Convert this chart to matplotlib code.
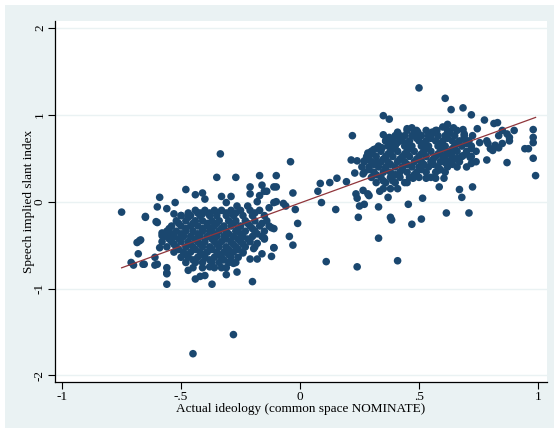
import numpy as np
import matplotlib.pyplot as plt
from matplotlib.patches import Rectangle

# sparse points (x = nominate, y = slant index)
sparse_pts = [
    (-0.75, -0.12), (-0.71, -0.70), (-0.70, -0.73), (-0.685, -0.47), (-0.67, -0.44),
    (-0.68, -0.60), (-0.66, -0.72), (-0.60, -0.24), (-0.575, -0.37), (-0.56, -0.95),
    (-0.56, -0.83), (-0.56, -0.76), (-0.61, -0.64), (-0.60, -0.72), (-0.59, -0.53),
    (-0.58, -0.39), (-0.55, -0.39), (-0.65, -0.18), (-0.60, -0.06), (-0.59, 0.05),
    (-0.56, -0.08), (-0.525, -0.01), (-0.53, -0.14), (-0.50, -0.16), (-0.48, 0.14),
    (-0.47, -0.18), (-0.44, 0.08), (-0.41, 0.10), (-0.40, 0.03), (-0.35, 0.28),
    (-0.335, 0.55), (-0.33, 0.06), (-0.43, -0.13), (-0.41, -0.14), (-0.31, -0.01),
    (-0.35, -0.13), (-0.27, 0.28), (-0.17, 0.30), (-0.10, 0.30), (-0.04, 0.46),
    (-0.21, 0.17), (-0.16, 0.19), (-0.11, 0.17), (-0.10, 0.17), (-0.15, 0.12),
    (-0.14, 0.12), (-0.21, 0.09), (-0.17, 0.07), (-0.03, 0.10), (-0.11, -0.01),
    (-0.10, 0.00), (-0.07, -0.02), (-0.06, -0.05), (-0.02, -0.09), (-0.18, 0.00),
    (-0.265, -0.05), (-0.29, 0.06), (-0.22, -0.05), (-0.13, -0.07),
    (-0.01, -0.25), (-0.045, -0.40), (-0.03, -0.50), (-0.11, -0.53), (-0.12, -0.63),
    (-0.15, -0.42), (-0.11, -0.31), (-0.12, -0.30), (-0.16, -0.60), (-0.18, -0.66),
    (-0.21, -0.66), (-0.24, -0.59), (-0.28, -0.71), (-0.265, -0.81), (-0.20, -0.92),
    (-0.195, -0.54), (-0.18, -0.48), (-0.28, -1.53), (-0.45, -1.75), (-0.37, -0.95),
    (-0.44, -0.89), (-0.42, -0.86), (-0.40, -0.85), (-0.31, -0.84), (-0.655, -0.72),
    (-0.61, -0.73), (-0.56, -0.82), (-0.47, -0.79), (-0.38, -0.75), (-0.33, -0.76),
    (-0.15, -0.43), (-0.11, -0.53), (-0.675, -0.45), (-0.58, -0.36), (-0.53, -0.40),
    (-0.65, -0.17), (-0.605, -0.23),
    (0.075, 0.12), (0.085, 0.21), (0.125, 0.22), (0.155, 0.27), (0.09, -0.01),
    (0.15, -0.09), (0.195, 0.23), (0.235, 0.09), (0.24, 0.04), (0.25, -0.05),
    (0.27, -0.03), (0.245, -0.18), (0.29, 0.07), (0.33, -0.06), (0.335, 0.12),
    (0.35, 0.15), (0.37, 0.05), (0.38, -0.18), (0.385, -0.21), (0.33, -0.42),
    (0.455, -0.03), (0.47, -0.26), (0.51, -0.20), (0.515, 0.04), (0.53, 0.27),
    (0.11, -0.69), (0.24, -0.75), (0.41, -0.68), (0.265, 0.13), (0.285, 0.09),
    (0.38, 0.15), (0.41, 0.15), (0.45, 0.22), (0.475, 0.27), (0.32, 0.22),
    (0.35, 0.24), (0.39, 0.24), (0.57, 0.27), (0.605, 0.27), (0.585, 0.17),
    (0.67, 0.14), (0.68, 0.05), (0.725, 0.17), (0.615, -0.13), (0.71, -0.13),
    (0.99, 0.30),
    (0.50, 1.31), (0.35, 0.99), (0.375, 0.95), (0.22, 0.76), (0.35, 0.77),
    (0.375, 0.74), (0.41, 0.80), (0.42, 0.76), (0.45, 0.84), (0.47, 0.85),
    (0.495, 0.80), (0.215, 0.48), (0.24, 0.47), (0.23, 0.33), (0.265, 0.32),
    (0.285, 0.56), (0.31, 0.60), (0.345, 0.62), (0.36, 0.70), (0.41, 0.68),
    (0.27, 0.47), (0.32, 0.45),
    (0.61, 1.19), (0.635, 1.06), (0.685, 1.08), (0.72, 1.00), (0.775, 0.94),
    (0.815, 0.90), (0.83, 0.91), (0.85, 0.82), (0.87, 0.78), (0.90, 0.82),
    (0.98, 0.83), (0.98, 0.74), (0.98, 0.68), (0.945, 0.61), (0.96, 0.61),
    (0.98, 0.50), (0.87, 0.45), (0.785, 0.48), (0.74, 0.46), (0.72, 0.44),
    (0.785, 0.70), (0.80, 0.61), (0.81, 0.59), (0.835, 0.62), (0.835, 0.76),
    (0.88, 0.74), (0.745, 0.84), (0.685, 0.83), (0.69, 0.78), (0.725, 0.76),
    (0.60, 0.86), (0.62, 0.89), (0.645, 0.85), (0.575, 0.82), (0.555, 0.80),
    (0.755, 0.68), (0.79, 0.67), (0.82, 0.65), (0.85, 0.67), (0.88, 0.70),
    (0.685, 0.53), (0.665, 0.50), (0.63, 0.47), (0.715, 0.51), (0.58, 0.36),
    (0.61, 0.45), (0.645, 0.59), (0.665, 0.67),
]

# dense cores, typed row by row (y value: x values)
left_core = {
    -0.10: [-0.44, -0.40, -0.36, -0.33, -0.29, -0.25, -0.21, -0.17],
    -0.13: [-0.47, -0.42, -0.38, -0.31, -0.27, -0.19],
    -0.16: [-0.50, -0.46, -0.42, -0.38, -0.35, -0.31, -0.28, -0.24, -0.20, -0.15],
    -0.22: [-0.52, -0.48, -0.44, -0.41, -0.37, -0.34, -0.30, -0.27, -0.23, -0.19, -0.14],
    -0.25: [-0.51, -0.45, -0.39, -0.35, -0.28, -0.22, -0.16],
    -0.28: [-0.54, -0.50, -0.46, -0.43, -0.39, -0.36, -0.32, -0.29, -0.25, -0.21, -0.17, -0.13],
    -0.31: [-0.55, -0.48, -0.41, -0.37, -0.33, -0.26, -0.20],
    -0.34: [-0.56, -0.52, -0.48, -0.45, -0.41, -0.38, -0.34, -0.31, -0.27, -0.23, -0.19, -0.15],
    -0.37: [-0.54, -0.50, -0.43, -0.36, -0.30, -0.25, -0.18],
    -0.40: [-0.57, -0.53, -0.49, -0.46, -0.42, -0.39, -0.35, -0.32, -0.28, -0.24, -0.20, -0.16],
    -0.43: [-0.55, -0.51, -0.44, -0.37, -0.31, -0.26, -0.22],
    -0.46: [-0.58, -0.54, -0.50, -0.47, -0.43, -0.40, -0.36, -0.33, -0.29, -0.25, -0.21],
    -0.49: [-0.53, -0.46, -0.42, -0.35, -0.28, -0.24],
    -0.52: [-0.56, -0.52, -0.48, -0.45, -0.41, -0.38, -0.34, -0.31, -0.27, -0.23, -0.19],
    -0.55: [-0.51, -0.44, -0.37, -0.30, -0.26],
    -0.58: [-0.53, -0.49, -0.46, -0.42, -0.39, -0.35, -0.32, -0.28, -0.24],
    -0.61: [-0.48, -0.41, -0.34, -0.30],
    -0.64: [-0.50, -0.47, -0.43, -0.40, -0.36, -0.33, -0.29, -0.26],
    -0.67: [-0.45, -0.38, -0.32],
    -0.70: [-0.48, -0.44, -0.41, -0.37, -0.34, -0.30, -0.27],
    -0.76: [-0.45, -0.41, -0.36, -0.31],
}
right_core = {
    0.82: [0.45, 0.49, 0.53, 0.57, 0.62, 0.66],
    0.79: [0.48, 0.56, 0.63],
    0.76: [0.40, 0.44, 0.47, 0.51, 0.54, 0.58, 0.61, 0.65, 0.69],
    0.73: [0.42, 0.49, 0.55, 0.62, 0.69],
    0.70: [0.36, 0.39, 0.43, 0.46, 0.50, 0.53, 0.57, 0.60, 0.64, 0.67, 0.71],
    0.67: [0.38, 0.45, 0.52, 0.59, 0.66, 0.70],
    0.64: [0.33, 0.37, 0.40, 0.44, 0.47, 0.51, 0.54, 0.58, 0.61, 0.65, 0.68, 0.72],
    0.61: [0.32, 0.39, 0.46, 0.53, 0.60, 0.64, 0.72],
    0.58: [0.30, 0.34, 0.38, 0.41, 0.45, 0.48, 0.52, 0.55, 0.59, 0.62, 0.66, 0.70, 0.74],
    0.55: [0.30, 0.37, 0.44, 0.51, 0.58, 0.62, 0.70],
    0.52: [0.28, 0.32, 0.36, 0.39, 0.43, 0.46, 0.50, 0.53, 0.57, 0.60, 0.64, 0.68, 0.72],
    0.49: [0.29, 0.35, 0.42, 0.49, 0.56, 0.61, 0.65],
    0.46: [0.27, 0.30, 0.34, 0.37, 0.41, 0.44, 0.48, 0.51, 0.55, 0.59, 0.63, 0.67],
    0.43: [0.31, 0.38, 0.45, 0.52, 0.56, 0.64],
    0.40: [0.26, 0.29, 0.33, 0.36, 0.40, 0.43, 0.47, 0.50, 0.54, 0.58, 0.62, 0.66, 0.70],
    0.37: [0.29, 0.36, 0.43, 0.51, 0.59],
    0.34: [0.27, 0.31, 0.35, 0.38, 0.42, 0.45, 0.49, 0.53, 0.57, 0.61],
    0.31: [0.32, 0.40, 0.48],
    0.28: [0.30, 0.34, 0.38, 0.42, 0.46, 0.50, 0.55],
    0.22: [0.36, 0.40, 0.44],
}

# linear fit line
fit_slope = 0.995
fit_intercept = -0.015

x_ticks = [-1, -0.5, 0, 0.5, 1]
x_labels = ['-1', '-.5', '0', '.5', '1']
y_ticks = [-2, -1, 0, 1, 2]
y_labels = ['-2', '-1', '0', '1', '2']

xs = [p[0] for p in sparse_pts]
ys = [p[1] for p in sparse_pts]
for core in (left_core, right_core):
    for yv, row in core.items():
        for xv in row:
            xs.append(xv)
            ys.append(yv)
xs = np.array(xs)
ys = np.array(ys)

plt.rcParams['font.family'] = ['Liberation Serif', 'DejaVu Serif']

fig = plt.figure(figsize=(5.54, 4.28), dpi=100, facecolor='white')
# light graph region behind the white plot region
bg = Rectangle((5 / 554, 0), 1, 423 / 428, transform=fig.transFigure,
               facecolor='#eaf2f3', edgecolor='none', zorder=-10)
fig.add_artist(bg)
ax = fig.add_axes([55 / 554, 46.5 / 428, 492 / 554, 360.5 / 428])
ax.set_zorder(1)
ax.set_facecolor('white')

for yt in y_ticks:
    ax.axhline(yt, color='#eaf2f3', lw=1.0, zorder=1)

ax.scatter(xs, ys, s=30, color='#1a476f', edgecolors='none', zorder=3)

fx = np.array([xs.min(), xs.max()])
ax.plot(fx, fit_slope * fx + fit_intercept, color='#90353b', lw=0.9, zorder=4)

ax.set_xlim(-1.03, 1.038)
ax.set_ylim(-2.07, 2.08)
ax.set_xticks(x_ticks)
ax.set_xticklabels(x_labels)
ax.set_yticks(y_ticks)
ax.set_yticklabels(y_labels, rotation=90, va='center')
ax.tick_params(direction='out', length=5, width=0.8, labelsize=9.5, colors='black', pad=1.5)
for side in ('top', 'right'):
    ax.spines[side].set_visible(False)
for side in ('left', 'bottom'):
    ax.spines[side].set_linewidth(0.9)
ax.set_xlabel('Actual ideology (common space NOMINATE)', fontsize=9.5, labelpad=0)
ax.set_ylabel('Speech implied slant index', fontsize=9.5, labelpad=-1)

fig.savefig('out.png', dpi=100, facecolor=fig.get_facecolor())
